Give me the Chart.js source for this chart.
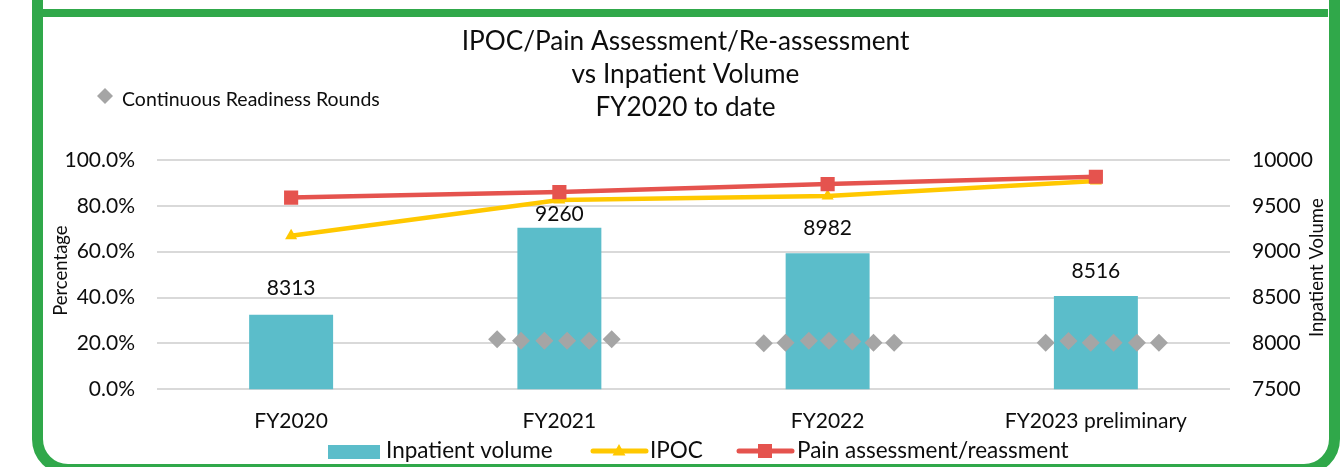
<!DOCTYPE html>
<html>
<head>
<meta charset="utf-8">
<script src="https://cdn.jsdelivr.net/npm/chart.js@4.4.1/dist/chart.umd.min.js"></script>
<style>
  html, body { margin:0; padding:0; background:#fff; width:1342px; height:467px; overflow:hidden; }
  #frame { position:absolute; left:32px; top:-60px; width:1286px; height:513px; border:11px solid #30A84A; border-radius:0 0 36px 36px; }
  #divider { position:absolute; left:43px; top:9px; width:1285px; height:8px; background:#30A84A; }
  #wrap { position:absolute; left:43px; top:17px; width:1285px; height:450px; }
</style>
</head>
<body>
<div id="frame"></div>
<div id="divider"></div>
<div id="wrap"><canvas id="c"></canvas></div>
<script>
// ---- data ----
const categories = ['FY2020', 'FY2021', 'FY2022', 'FY2023 preliminary'];
const inpatientVolume = [8313, 9260, 8982, 8516];
const ipoc = [67.0, 82.6, 84.3, 90.8];
const painAssessment = [83.6, 86.0, 89.5, 92.7];
// Continuous Readiness Rounds (x in category units, y in %)
const roundsX = [0.768, 0.857, 0.944, 1.029, 1.111, 1.195,
                 1.762, 1.843, 1.930, 2.005, 2.092, 2.171, 2.248,
                 2.813, 2.898, 2.981, 3.066, 3.153, 3.235];
const roundsY = [21.8, 21.2, 21.2, 21.2, 21.2, 21.8,
                 20.1, 20.3, 21.2, 21.2, 20.9, 20.3, 20.3,
                 20.3, 21.1, 20.3, 20.3, 20.3, 20.3];
const titleLines = ['IPOC/Pain Assessment/Re-assessment', 'vs Inpatient Volume', 'FY2020 to date'];
const seriesNames = ['Inpatient volume', 'IPOC', 'Pain assessment/reassment', 'Continuous Readiness Rounds'];
const leftAxisTitle = 'Percentage';
const rightAxisTitle = 'Inpatient Volume';

// ---- styles ----
const FONT = 'Lato, "Open Sans", sans-serif';
const C_BAR = '#5BBDCA', C_IPOC = '#FFC800', C_PAIN = '#E5534E', C_ROUND = '#A5A5A5', C_TEXT = '#0D0D0D';
const labelGap = [26, 14, 25, 25];

const overlay = {
  id: 'overlay',
  afterDatasetsDraw(chart) {
    const ctx = chart.ctx;
    const meta = chart.getDatasetMeta(0);
    ctx.save();
    ctx.fillStyle = C_TEXT;
    ctx.font = '21px ' + FONT;
    ctx.textAlign = 'center';
    ctx.textBaseline = 'middle';
    meta.data.forEach((bar, i) => {
      ctx.fillText(String(inpatientVolume[i]), bar.x, bar.y - labelGap[i]);
    });
    ctx.restore();
  },
  afterDraw(chart) {
    const ctx = chart.ctx;
    const ca = chart.chartArea;
    ctx.save();
    ctx.fillStyle = C_TEXT;
    // title
    ctx.font = '26.2px ' + FONT;
    ctx.textAlign = 'center';
    ctx.textBaseline = 'middle';
    const cx = chart.width / 2;
    titleLines.forEach((t, i) => ctx.fillText(t, cx, 25 + i * 33));
    // axis titles
    ctx.font = '18.5px ' + FONT;
    ctx.save();
    ctx.translate(18, (ca.top + ca.bottom) / 2 - 4);
    ctx.rotate(-Math.PI / 2);
    ctx.fillText(leftAxisTitle, 0, 0);
    ctx.restore();
    ctx.save();
    ctx.translate(1274, (ca.top + ca.bottom) / 2 - 7);
    ctx.rotate(-Math.PI / 2);
    ctx.fillText(rightAxisTitle, 0, 0);
    ctx.restore();
    // top-left legend
    ctx.fillStyle = C_ROUND;
    ctx.beginPath();
    ctx.moveTo(62 - 8, 79); ctx.lineTo(62, 71); ctx.lineTo(62 + 8, 79); ctx.lineTo(62, 87); ctx.closePath();
    ctx.fill();
    ctx.fillStyle = C_TEXT;
    ctx.textAlign = 'left';
    ctx.font = '19.5px ' + FONT;
    ctx.fillText(seriesNames[3], 79, 83);
    // bottom legend
    const ly = 434;
    ctx.font = '22.5px ' + FONT;
    ctx.fillStyle = C_BAR;
    ctx.fillRect(285, 428, 52, 14);
    ctx.fillStyle = C_TEXT;
    ctx.fillText(seriesNames[0], 343, ly);
    // IPOC
    ctx.strokeStyle = C_IPOC; ctx.lineWidth = 5; ctx.lineCap = 'round';
    ctx.beginPath(); ctx.moveTo(550, ly); ctx.lineTo(603, ly); ctx.stroke();
    ctx.fillStyle = C_IPOC;
    ctx.beginPath(); ctx.moveTo(576, ly - 7); ctx.lineTo(582.5, ly + 4.5); ctx.lineTo(569.5, ly + 4.5); ctx.closePath(); ctx.fill();
    ctx.fillStyle = C_TEXT;
    ctx.fillText(seriesNames[1], 607, ly);
    // Pain
    ctx.strokeStyle = C_PAIN;
    ctx.beginPath(); ctx.moveTo(696, ly); ctx.lineTo(749, ly); ctx.stroke();
    ctx.fillStyle = C_PAIN;
    ctx.fillRect(722 - 7, ly - 7, 14, 14);
    ctx.fillStyle = C_TEXT;
    ctx.fillText(seriesNames[2], 754, ly);
    ctx.restore();
  }
};

new Chart(document.getElementById('c'), {
  type: 'bar',
  data: {
    labels: categories,
    datasets: [
      { type: 'bar', label: seriesNames[0], data: inpatientVolume, yAxisID: 'y2', xAxisID: 'x',
        backgroundColor: C_BAR, borderWidth: 0, barPercentage: 0.313, categoryPercentage: 1,
        grouped: false, order: 4 },
      { type: 'line', label: seriesNames[1], data: ipoc, yAxisID: 'y', xAxisID: 'x',
        borderColor: C_IPOC, backgroundColor: C_IPOC, borderWidth: 4.5, pointStyle: 'triangle',
        pointRadius: 7, pointBorderWidth: 0, tension: 0, order: 2 },
      { type: 'line', label: seriesNames[2], data: painAssessment, yAxisID: 'y', xAxisID: 'x',
        borderColor: C_PAIN, backgroundColor: C_PAIN, borderWidth: 4.5, pointStyle: 'rect',
        pointRadius: 10, pointBorderWidth: 0, tension: 0, order: 1 },
      { type: 'scatter', label: seriesNames[3], data: roundsX.map((x, i) => ({ x, y: roundsY[i] })),
        yAxisID: 'y', xAxisID: 'xs', backgroundColor: C_ROUND, pointStyle: 'rectRot',
        pointRadius: 9, pointBorderWidth: 0, showLine: false, order: 3 }
    ]
  },
  options: {
    responsive: true,
    maintainAspectRatio: false,
    animation: false,
    layout: { padding: { top: 143, bottom: 0, left: 0, right: 0 } },
    plugins: { legend: { display: false }, title: { display: false }, tooltip: { enabled: false } },
    scales: {
      x: {
        type: 'category', position: 'bottom', offset: true,
        grid: { display: false, drawTicks: false },
        border: { display: false },
        ticks: { color: C_TEXT, font: { family: FONT, size: 21 }, padding: 19, maxRotation: 0 },
        afterFit(s) { s.height = 77.7; }
      },
      xs: {
        type: 'linear', display: false, min: -0.5, max: 3.5, offset: false,
        grid: { offset: false }
      },
      y: {
        type: 'linear', position: 'left', min: 0, max: 100,
        grid: { color: '#D9D9D9', lineWidth: 2, drawTicks: false },
        border: { display: false },
        ticks: { stepSize: 20, color: C_TEXT, font: { family: FONT, size: 21 }, padding: 22,
                 callback: v => v.toFixed(1) + '%' },
        afterFit(s) { s.width = 114; }
      },
      y2: {
        type: 'linear', position: 'right', min: 7500, max: 10000,
        grid: { display: false, drawTicks: false },
        border: { display: false },
        ticks: { stepSize: 500, color: C_TEXT, font: { family: FONT, size: 21 }, padding: 22,
                 callback: v => String(v) },
        afterFit(s) { s.width = 98; }
      }
    }
  },
  plugins: [overlay]
});
</script>
</body>
</html>
